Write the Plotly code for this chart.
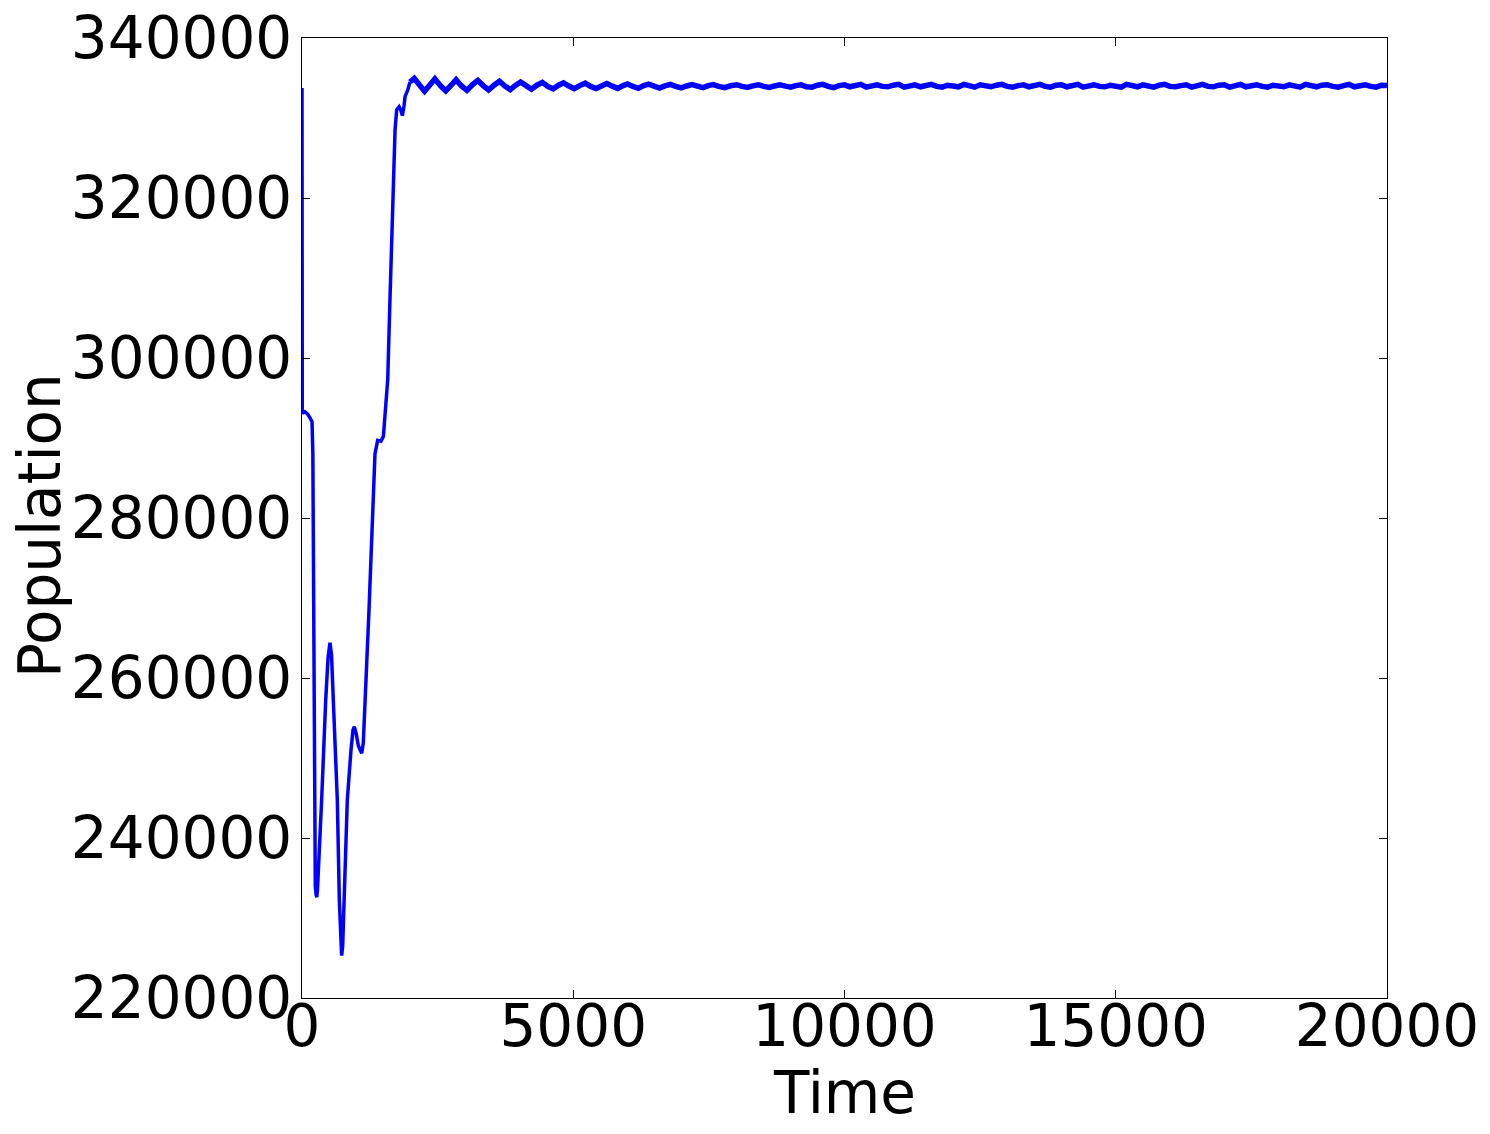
import plotly.graph_objects as go

BLUE = "#0000ff"
FONT = "DejaVu Sans"

# transient
t_early = [0, 5, 50, 100, 150, 185, 200, 210, 220, 230, 245, 260, 272, 285, 301,
           362, 437, 480, 516, 545, 577, 651, 688, 710, 731, 750, 774, 835, 903,
           940, 965, 1000, 1040, 1100, 1130, 1160, 1190, 1235, 1255, 1285, 1315,
           1345, 1395, 1455, 1500, 1540, 1580, 1620, 1655, 1685, 1715, 1745, 1790,
           1820, 1850, 1880, 1900, 1950, 1990]
p_early = [333750, 293100, 293300, 293000, 292500, 292000, 288000, 272000, 252000,
           238500, 234000, 232900, 232600, 233500, 236400, 244750, 257250, 262500,
           264400, 262800, 257250, 244750, 232250, 227000, 225300, 226500, 232250,
           244750, 251000, 253500, 253900, 253000, 251500, 250600, 251900, 256000,
           261400, 268500, 272300, 278500, 283900, 288000, 289700, 289600, 290200,
           293800, 297300, 307000, 316000, 324400, 328500, 331000, 331400, 331000,
           330300, 331500, 332700, 333500, 334500]

# damped oscillation: peaks, troughs and midpoints
t_osc = [1990, 2070, 2170, 2260, 2360, 2450, 2550, 2650, 2750, 2840, 2940, 3040, 3140,
         3240, 3340, 3440, 3540, 3640, 3740, 3840, 3940, 4030, 4130, 4230, 4330,
         4430, 4530, 4630, 4730, 4820, 4920, 5020, 5120, 5220, 5320, 5420, 5520,
         5620, 5720, 5820, 5920, 6000, 6100, 6200, 6300, 6390, 6490, 6590, 6690,
         6790, 6890, 6990, 7090, 7190, 7290, 7390, 7490, 7580, 7680, 7790, 7900,
         8010, 8110, 8210, 8310, 8410, 8510, 8610, 8710, 8810, 8910, 9010]
p_osc = [334500, 334950, 334100, 333350, 334150, 334900, 334050, 333400, 334100, 334800,
         334000, 333450, 334150, 334700, 334050, 333500, 334100, 334600, 334000,
         333550, 334100, 334500, 334050, 333600, 334100, 334450, 333950, 333650,
         334100, 334400, 334000, 333660, 334050, 334350, 333950, 333680, 334000,
         334300, 333980, 333700, 334050, 334260, 333950, 333720, 334050, 334230,
         333980, 333750, 334020, 334200, 333950, 333770, 334000, 334180, 333980,
         333790, 334050, 334170, 333950, 333800, 334030, 334160, 333960, 333820,
         334020, 334160, 333950, 333830, 334000, 334150, 333980, 333850]

# steady state, sampled every 100 time units from 9100 to 20000
t_flat = list(range(9100, 20001, 100))
p_flat = [334050, 334150, 333900, 333850, 334100, 334200, 333950, 333800, 334050, 334150,
          333900, 334000, 334200, 333850, 334050, 334150, 333950, 333900, 334100, 334200,
          333850, 334000, 334150, 333900, 334050, 334200, 333950, 333850, 334100, 334050,
          333900, 334200, 334000, 333850, 334150, 334050, 333900, 334100, 334200, 333950,
          333850, 334050, 334150, 333900, 334000, 334200, 333950, 333850, 334100, 334150,
          333900, 334050, 334200, 333850, 334000, 334150, 333950, 333900, 334100, 334050,
          333850, 334200, 334000, 333900, 334150, 334050, 333850, 334100, 334200, 333950,
          333900, 334050, 334150, 333850, 334000, 334200, 333950, 333900, 334100, 334150,
          333850, 334000, 334200, 333900, 334050, 334150, 333950, 333850, 334100, 334050,
          333900, 334150, 334000, 333850, 334200, 334050, 333900, 334100, 334150, 333950,
          333850, 334050, 334200, 333900, 334000, 334150, 333950, 333850, 334100, 334050]

x_ticks = [0, 5000, 10000, 15000, 20000]
y_ticks = [220000, 240000, 260000, 280000, 300000, 320000, 340000]

fig = go.Figure()
# smooth transient
fig.add_trace(go.Scatter(
    x=t_early, y=p_early, mode="lines",
    line=dict(color=BLUE, width=3.5), showlegend=False,
))
# noisy near-equilibrium part draws as a thicker band
fig.add_trace(go.Scatter(
    x=t_osc + t_flat, y=p_osc + p_flat, mode="lines",
    line=dict(color=BLUE, width=5.5), showlegend=False,
))

axis = dict(
    showgrid=False, zeroline=False, automargin=False,
    showline=True, linecolor="black", linewidth=1.3, mirror="allticks",
    ticks="inside", ticklen=8, tickwidth=1.2, tickcolor="black",
    tickformat="d", tickfont=dict(family=FONT, size=58, color="black"),
    ticklabeloverflow="allow",
)

# page body has an 8px margin, so the figure is 8px smaller and shifted
fig.update_layout(
    width=1482, height=1126,
    paper_bgcolor="white", plot_bgcolor="white",
    font=dict(family=FONT, color="black"),
    margin=dict(l=294, r=103, t=30, b=136),
    xaxis=dict(**axis, range=[0, 20000], tickvals=x_ticks, ticklabelstandoff=-23),
    yaxis=dict(**axis, range=[220000, 340000], tickvals=y_ticks, ticklabelstandoff=-3),
    annotations=[
        dict(text="Time", xref="paper", yref="paper", x=0.5, y=-0.099,
             xanchor="center", yanchor="middle", showarrow=False,
             font=dict(family=FONT, size=58)),
        dict(text="Population", xref="paper", yref="paper", x=-0.2415, y=0.4927,
             xanchor="center", yanchor="middle", textangle=-90, showarrow=False,
             font=dict(family=FONT, size=58)),
    ],
)

fig.write_html("out.html")
